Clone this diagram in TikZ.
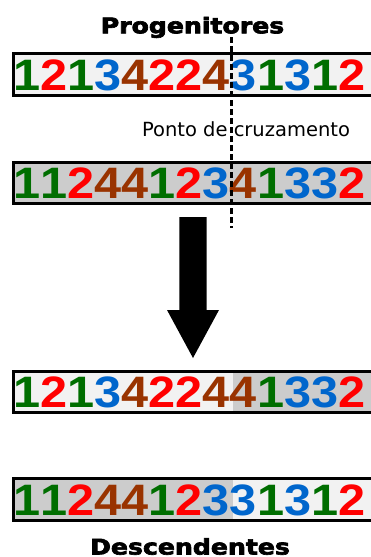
\documentclass[tikz,border=0pt]{standalone}
\usepackage{fontspec}
\usepackage{graphicx}
\setmainfont{DejaVu Sans}
\newfontfamily\digitfont{Liberation Sans}
\newfontfamily\headfont{DejaVu Sans}[BoldFeatures={FakeBold=3}]

% gene colours: 1 green, 2 red, 3 blue, 4 brown
\definecolor{g1}{HTML}{006E00}
\definecolor{g2}{HTML}{FF0000}
\definecolor{g3}{HTML}{0066CC}
\definecolor{g4}{HTML}{993300}
\definecolor{lightcell}{HTML}{F2F2F2}
\definecolor{darkcell}{HTML}{CCCCCC}

\tikzset{
  gene/.style={inner sep=0pt, anchor=base, text=g#1,
    font=\fontsize{44}{44}\selectfont\digitfont\bfseries},
  heading/.style={inner sep=0pt, anchor=base,
    font=\fontsize{21.5}{21.5}\selectfont\headfont\bfseries},
  caption/.style={inner sep=0pt, anchor=base,
    font=\fontsize{19.5}{19.5}\selectfont},
  boxline/.style={draw=black, line width=2.6pt},
  cutline/.style={draw=black, line width=3pt, dash pattern=on 6pt off 3pt},
}

% one chromosome row: name prefix, baseline, list of genes
\newcommand\generow[3]{%
  \foreach \d [count=\i from 0] in {#3}
    \node[gene=\d] (#1-\i) at ({27+27.06*\i},#2) {\scalebox{1.106}[1]{\d}};
}

\begin{document}
\begin{tikzpicture}[x=1pt,y=-1pt]
  \useasboundingbox (0,0) rectangle (371,557);
  \clip (0,0) rectangle (371,557);

  % titles
  \node[heading] (parents) at (192.5,33.3) {\scalebox{1.17}[1]{Progenitores}};
  \node[heading] (children) at (190,554.5) {\scalebox{1.17}[1]{Descendentes}};

  % parent chromosomes
  \fill[lightcell] (13.3,53.3) rectangle (385,95.7);
  \draw[boxline] (13.3,53.3) rectangle (385,95.7);
  \generow{pa}{90.3}{1,2,1,3,4,2,2,4,3,1,3,1,2}

  \fill[darkcell] (13.3,162.3) rectangle (385,203.7);
  \draw[boxline] (13.3,162.3) rectangle (385,203.7);
  \generow{pb}{198.8}{1,1,2,4,4,1,2,3,4,1,3,3,2}

  % crossover point
  \node[caption] (cutlabel) at (246,136) {Ponto de cruzamento};
  \coordinate (cuttop) at (231,37);
  \coordinate (cutbot) at (231,228);
  \draw[cutline] (cuttop) -- (cutbot);

  % block arrow
  \fill[black] (179.3,217) -- (206.7,217) -- (206.7,310) -- (219,310)
    -- (193,358) -- (167,310) -- (179.3,310) -- cycle;

  % offspring chromosomes
  \fill[lightcell] (13.3,371.3) rectangle (233,412.7);
  \fill[darkcell] (233,371.3) rectangle (385,412.7);
  \draw[boxline] (13.3,371.3) rectangle (385,412.7);
  \generow{oa}{407.8}{1,2,1,3,4,2,2,4,4,1,3,3,2}

  \fill[darkcell] (13.3,478.3) rectangle (233,520.7);
  \fill[lightcell] (233,478.3) rectangle (385,520.7);
  \draw[boxline] (13.3,478.3) rectangle (385,520.7);
  \generow{ob}{515.3}{1,1,2,4,4,1,2,3,3,1,3,1,2}
\end{tikzpicture}
\end{document}
